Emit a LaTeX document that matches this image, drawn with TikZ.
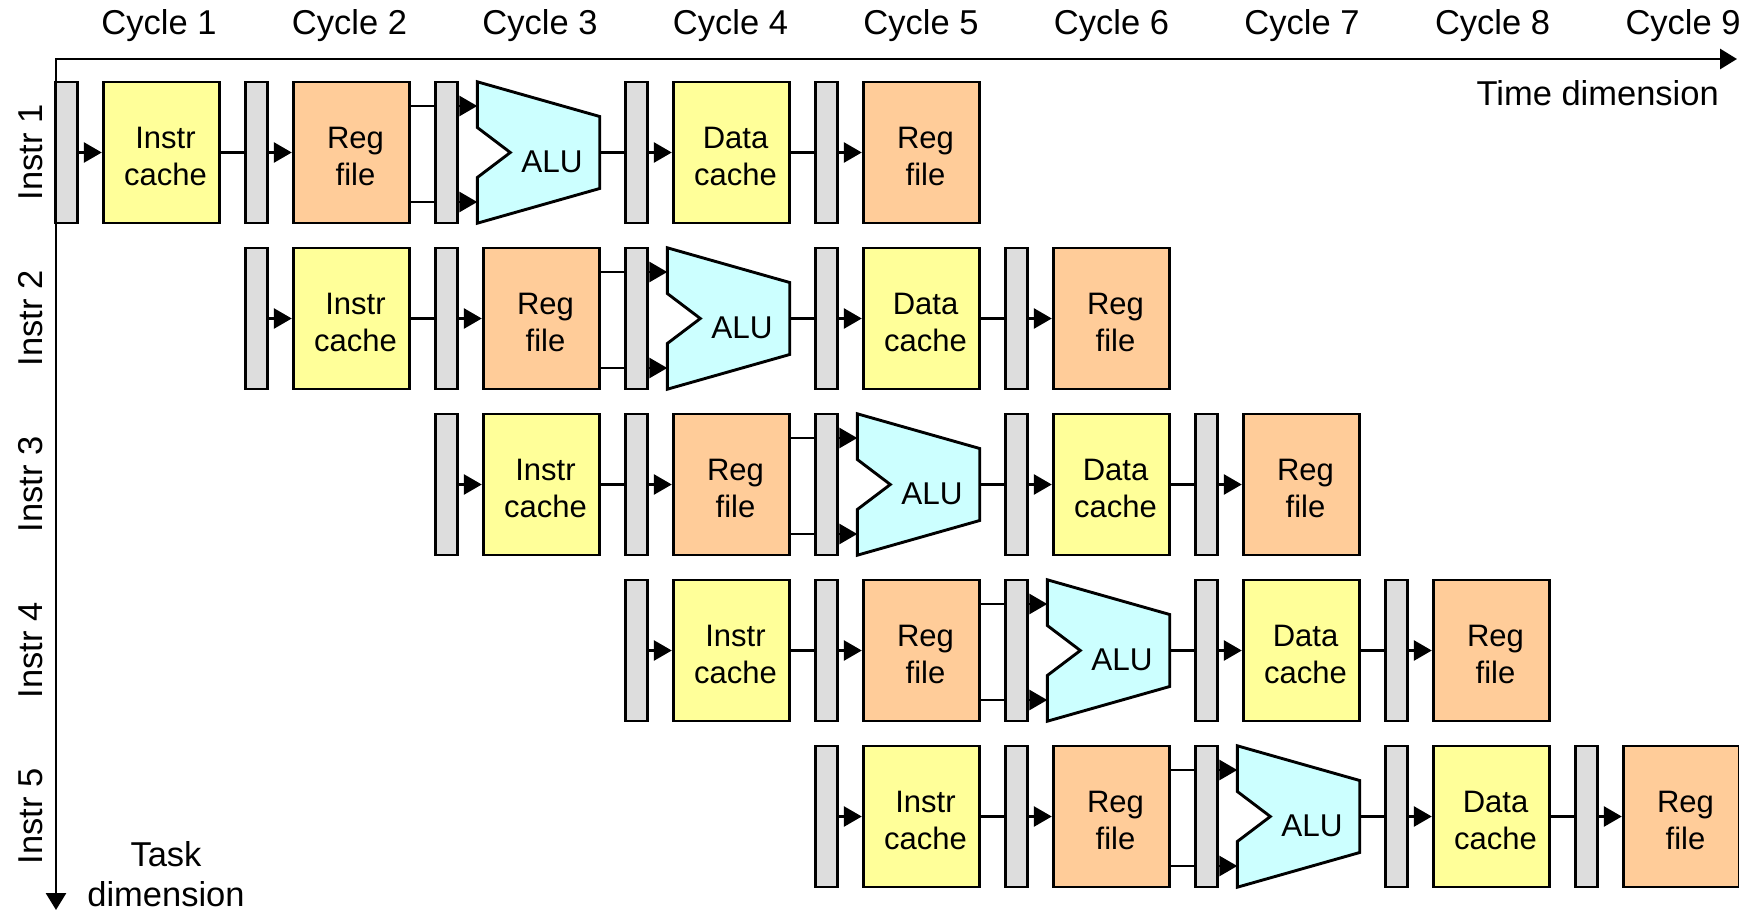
\documentclass[tikz,border=0pt]{standalone}
\usepackage{fontspec}
\setmainfont{Liberation Sans}
\usetikzlibrary{arrows.meta,calc}
\definecolor{cachecol}{HTML}{FFFF99}
\definecolor{regcol}{HTML}{FFCC99}
\definecolor{alucol}{HTML}{CCFFFF}
\definecolor{latchcol}{HTML}{DDDDDD}
\newcommand\boxstrut{\rule{0pt}{30pt}\kern8pt}
\newcommand\boxkern{\kern8pt}
\setlength{\lineskiplimit}{-30pt}
\setlength{\lineskip}{0pt}
\begin{document}
\begin{tikzpicture}[x=1pt,y=-1pt,
  unit/.style={draw=black, line width=2.9pt, inner sep=0pt, minimum height=141pt,
    align=center, font=\fontsize{31}{37}\selectfont},
  latchbox/.style={unit, fill=latchcol, minimum width=22pt},
  cachebox/.style={unit, fill=cachecol, minimum width=116.5pt},
  regbox/.style={unit, fill=regcol, minimum width=116.5pt},
  alubox/.style={inner sep=0pt, minimum width=122pt, minimum height=141pt},
  aluline/.style={draw=black, fill=alucol, line width=2.9pt, line join=miter},
  alutext/.style={font=\fontsize{31.5}{32}\selectfont, inner sep=0pt},
  wire/.style={line width=2.8pt},
  arr/.style={wire, -{Triangle[length=18pt,width=20pt]}},
  lbl/.style={font=\fontsize{34.5}{40}\selectfont, inner sep=0pt},
]
\path[use as bounding box, fill=white] (0,0) rectangle (1739,912);

% axes
\coordinate (origin) at (56,59);
\coordinate (tend) at (1737,59);
\coordinate (dend) at (56,910);
\draw[line width=2.9pt, {Triangle[length=17pt,width=20pt]}-{Triangle[length=17pt,width=20pt]}] (tend) -- (origin) -- (dend);

% cycle labels
\foreach \k in {1,...,9}
  \node[lbl, anchor=base] (cyc\k) at ({159+190.5*(\k-1)},35) {Cycle \k};
\node[lbl, anchor=base east] (timedim) at (1719,106) {Time dimension};
\node[lbl, anchor=north, align=center] (taskdim) at (166,841) {Task\\dimension};

\foreach \r in {0,...,4} {
  \pgfmathsetmacro\cy{152.5+166*\r}
  \pgfmathtruncatemacro\rowno{\r+1}
  \node[lbl, rotate=90] (instr\r) at (31,\cy) {Instr \rowno};
  \foreach \s in {0,...,4}
    \node[latchbox] (l\r\s) at ({66.3+190*(\r+\s)},\cy) {};
  \node[cachebox] (ic\r) at ({161.5+190*\r},\cy) {\boxstrut Instr\\\boxkern cache};
  \node[regbox] (rf\r) at ({161.5+190*(\r+1)},\cy) {\boxstrut Reg\\\boxkern file};
  \node[alubox] (alu\r) at ({158.5+190*(\r+2)},\cy) {};
  \node[cachebox] (dc\r) at ({161.5+190*(\r+3)},\cy) {\boxstrut Data\\\boxkern cache};
  \node[regbox] (wb\r) at ({161.5+190*(\r+4)},\cy) {\boxstrut Reg\\\boxkern file};
  % ALU shape
  \draw[aluline] (alu\r.north west) -- ($(alu\r.east)+(0,-36)$) -- ($(alu\r.east)+(0,36)$)
     -- (alu\r.south west) -- ($(alu\r.west)+(0,25)$) -- ($(alu\r.west)+(33,0)$)
     -- ($(alu\r.west)+(0,-25)$) -- cycle;
  \node[alutext] (alut\r) at ($(alu\r.center)+(13.5,9)$) {ALU};
  % connectors
  \draw[arr] (l\r0.east) -- (ic\r.west);
  \draw[wire] (ic\r.east) -- (l\r1.west);
  \draw[arr] (l\r1.east) -- (rf\r.west);
  \coordinate (ia\r) at ($(alu\r.west)+(0,-46.5)$);
  \coordinate (ib\r) at ($(alu\r.west)+(0,49.5)$);
  \draw[wire] (rf\r.east |- ia\r) -- (l\r2.west |- ia\r);
  \draw[arr] (l\r2.east |- ia\r) -- (ia\r);
  \draw[wire] (rf\r.east |- ib\r) -- (l\r2.west |- ib\r);
  \draw[arr] (l\r2.east |- ib\r) -- (ib\r);
  \draw[wire] (alu\r.east) -- (l\r3.west);
  \draw[arr] (l\r3.east) -- (dc\r.west);
  \draw[wire] (dc\r.east) -- (l\r4.west);
  \draw[arr] (l\r4.east) -- (wb\r.west);
}
\end{tikzpicture}
\end{document}
